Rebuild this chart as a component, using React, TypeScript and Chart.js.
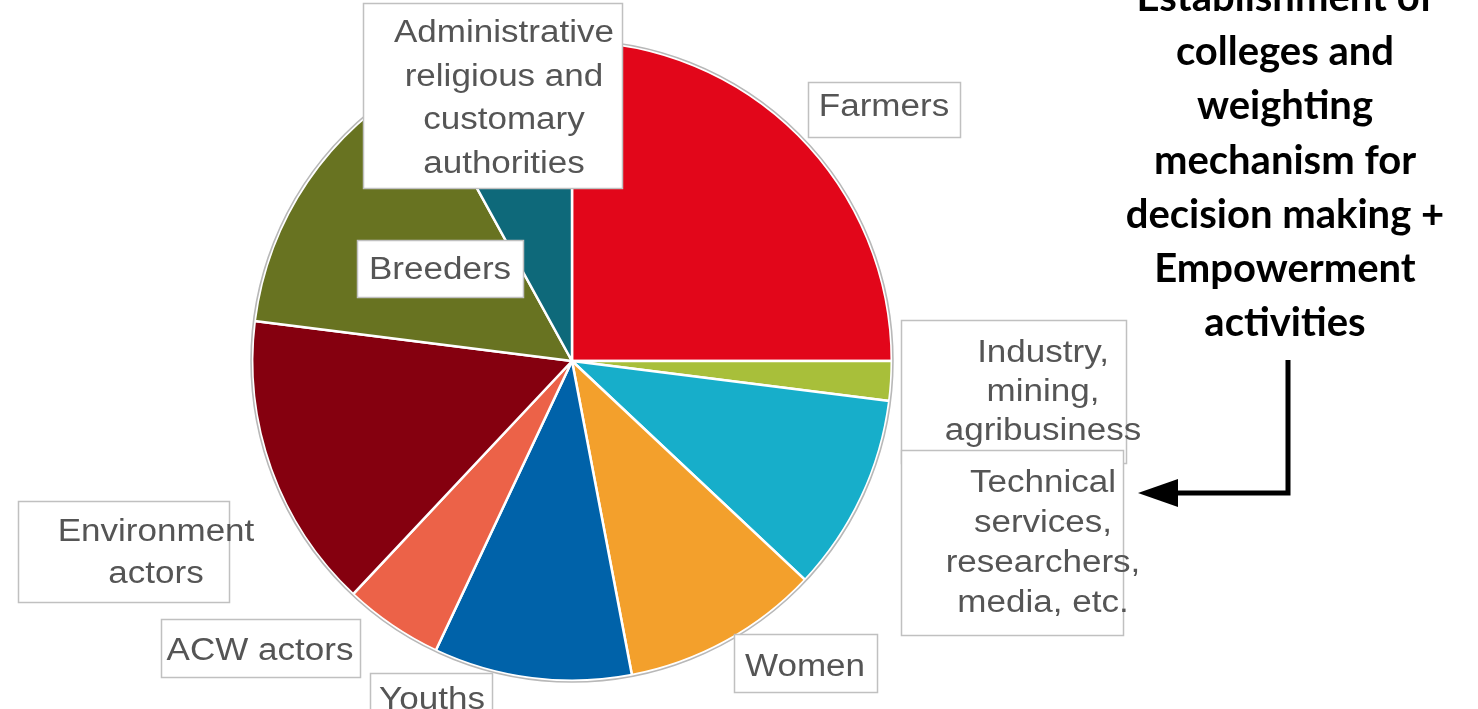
import React, { useEffect, useRef } from "react";
import { Chart, registerables } from "chart.js";

Chart.register(...registerables);

// ---- data ----
const categories = [
  "Farmers",
  "Industry, mining, agribusiness",
  "Technical services, researchers, media, etc.",
  "Women",
  "Youths",
  "ACW actors",
  "Environment actors",
  "Breeders",
  "Administrative religious and customary authorities",
];
const shares = [25, 2, 10, 10, 10, 5, 15, 15, 8];
const sliceColors = [
  "#E2061A",
  "#A8BF3A",
  "#17AECA",
  "#F3A02C",
  "#0062A9",
  "#EC6248",
  "#85000F",
  "#687321",
  "#0E697A",
];
const labelLines = [
  ["Farmers"],
  ["Industry,", "mining,", "agribusiness"],
  ["Technical", "services,", "researchers,", "media, etc."],
  ["Women"],
  ["Youths"],
  ["ACW actors"],
  ["Environment", "actors"],
  ["Breeders"],
  ["Administrative", "religious and", "customary", "authorities"],
];
const calloutLines = [
  "Establishment of",
  "colleges and",
  "weighting",
  "mechanism for",
  "decision making +",
  "Empowerment",
  "activities",
];

// ---- layout (label boxes placed relative to the pie centre) ----
const REF = { x: 572, y: 361 };
// [x0, y0, x1, y1, textCenterX, firstBaseline, lineHeight]
const labelBoxes = [
  [808, 82, 960, 137, 884, 116, 40],
  [901, 320, 1126, 463, 1043, 362, 39],
  [901, 450, 1123, 635, 1043, 492, 40],
  [734, 634, 877, 692, 805, 676, 40],
  [370, 673, 492, 730, 432, 709, 40],
  [161, 619, 360, 677, 260, 660, 40],
  [18, 501, 229, 602, 156, 541, 42],
  [357, 240, 523, 297, 440, 279, 40],
  [363, 3, 622, 188, 504, 42, 43.5],
];

const overlayPlugin = {
  id: "overlay",
  afterDatasetsDraw(chart: any) {
    const ctx = chart.ctx as CanvasRenderingContext2D;
    const arc = chart.getDatasetMeta(0).data[0] as any;
    if (!arc) return;
    const cx = arc.x;
    const cy = arc.y;
    const r = arc.outerRadius;
    ctx.save();
    ctx.beginPath();
    ctx.arc(cx, cy, r + 1.2, 0, Math.PI * 2);
    ctx.strokeStyle = "#b8b8b8";
    ctx.lineWidth = 1.6;
    ctx.stroke();
    ctx.restore();

    const ox = cx - REF.x;
    const oy = cy - REF.y;
    ctx.save();
    ctx.font = "31px 'Liberation Sans', Arial, sans-serif";
    ctx.textAlign = "center";
    ctx.textBaseline = "alphabetic";
    labelBoxes.forEach((b, i) => {
      const [x0, y0, x1, y1, tx, by, lh] = b;
      ctx.fillStyle = "#ffffff";
      ctx.fillRect(x0 + ox, y0 + oy, x1 - x0, y1 - y0);
      ctx.strokeStyle = "#c0c0c0";
      ctx.lineWidth = 1.5;
      ctx.strokeRect(x0 + ox + 0.5, y0 + oy + 0.5, x1 - x0, y1 - y0);
      ctx.fillStyle = "#555555";
      labelLines[i].forEach((line, j) => {
        ctx.save();
        ctx.translate(tx + ox, by + oy + j * lh);
        ctx.scale(1.13, 1);
        ctx.fillText(line, 0, 0);
        ctx.restore();
      });
    });
    ctx.restore();

    // callout text
    ctx.save();
    ctx.font = "bold 40px Lato, 'Open Sans', sans-serif";
    ctx.textAlign = "center";
    ctx.fillStyle = "#000000";
    calloutLines.forEach((line, j) => {
      ctx.fillText(line, 1285 + ox, 11 + j * 54.2 + oy);
    });
    // arrow
    ctx.strokeStyle = "#000000";
    ctx.lineWidth = 5;
    ctx.beginPath();
    ctx.moveTo(1288 + ox, 360 + oy);
    ctx.lineTo(1288 + ox, 493 + oy);
    ctx.lineTo(1172 + ox, 493 + oy);
    ctx.stroke();
    ctx.fillStyle = "#000000";
    ctx.beginPath();
    ctx.moveTo(1138 + ox, 493 + oy);
    ctx.lineTo(1178 + ox, 479 + oy);
    ctx.lineTo(1178 + ox, 507 + oy);
    ctx.closePath();
    ctx.fill();
    ctx.restore();
  },
};

export default function App() {
  const ref = useRef<HTMLCanvasElement | null>(null);
  useEffect(() => {
    document.body.style.margin = "0";
    const canvas = ref.current;
    if (!canvas) return;
    const chart = new Chart(canvas, {
      type: "pie",
      data: {
        labels: categories,
        datasets: [
          {
            data: shares,
            backgroundColor: sliceColors,
            borderColor: "#ffffff",
            borderWidth: 2.5,
          },
        ],
      },
      options: {
        animation: false,
        responsive: false,
        devicePixelRatio: 1,
        layout: { padding: { left: 251, right: 585, top: 40, bottom: 27 } },
        plugins: {
          legend: { display: false },
          tooltip: { enabled: false },
          title: { display: false },
        },
      },
      plugins: [overlayPlugin],
    });
    return () => chart.destroy();
  }, []);
  return (
    <div style={{ width: 1478, height: 709, background: "#ffffff", overflow: "hidden" }}>
      <canvas ref={ref} width={1478} height={709} style={{ display: "block" }} />
    </div>
  );
}
